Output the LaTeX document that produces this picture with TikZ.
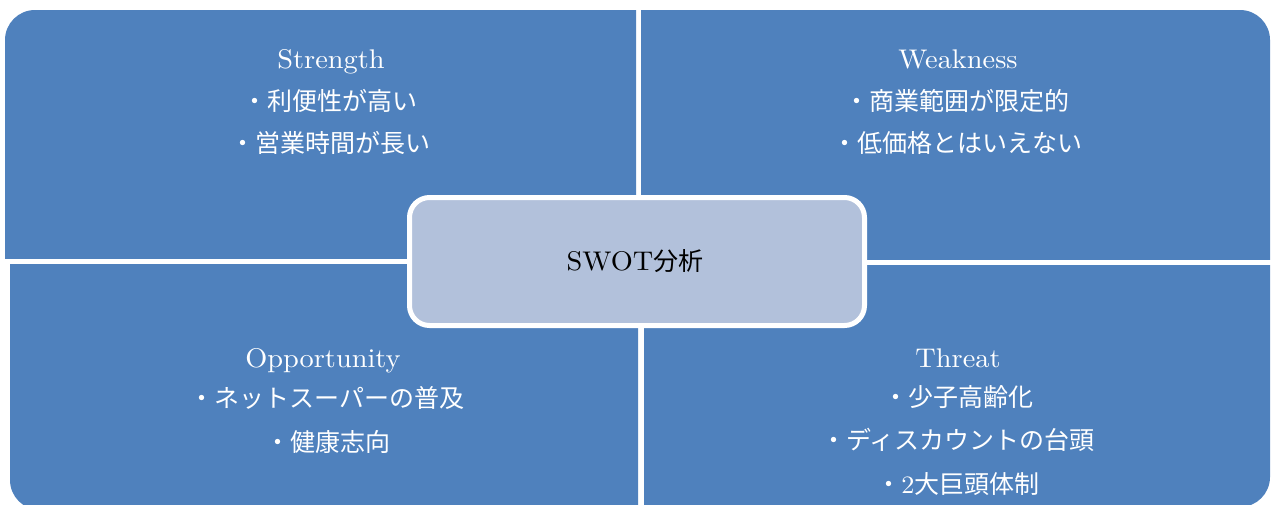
\documentclass[tikz,border=0pt]{standalone}
\usepackage{fontspec}
\newfontfamily\jp{Noto Sans CJK JP}
\newfontfamily\lat{lmroman10-regular.otf}[FakeStretch=1.05]
\definecolor{quadblue}{HTML}{4F81BD}
\definecolor{cboxfill}{HTML}{B2C1DB}
\begin{document}
\begin{tikzpicture}[x=1pt,y=-1pt,
  lat/.style={text=white,inner sep=0pt,anchor=base,font=\fontsize{27}{32}\selectfont\lat},
  jpt/.style={text=white,inner sep=0pt,anchor=base,font=\fontsize{25}{30}\selectfont\jp},
  quadfill/.style={fill=quadblue,rounded corners=30pt},
  centerbox/.style={fill=cboxfill,draw=white,line width=5pt,rounded corners=20pt,
    minimum width=455pt,minimum height=128pt,inner sep=0pt}]
\useasboundingbox (0,0) rectangle (1272,504);
\clip (0,0) rectangle (1272,504);
% quadrants
\begin{scope}
  \clip (5,10) rectangle (636,258);
  \fill[quadfill] (5,10) rectangle (720,330);
\end{scope}
\begin{scope}
  \clip (641,10) rectangle (1270,259);
  \fill[quadfill] (560,10) rectangle (1270,330);
\end{scope}
\begin{scope}
  \clip (10,264) rectangle (638,520);
  \fill[quadfill] (10,190) rectangle (720,510);
\end{scope}
\begin{scope}
  \clip (644,265) rectangle (1270,520);
  \fill[quadfill] (560,190) rectangle (1270,507);
\end{scope}
% center
\node[centerbox] (swot) at (637,261.5) {};
\node[inner sep=0pt,anchor=base,font=\fontsize{27}{32}\selectfont\lat] (swott) at (635,270) {SWOT{\fontsize{25}{30}\selectfont\jp 分析}};
% Strength
\node[lat] (s) at (331,68) {Strength};
\node[jpt] (s1) at (330,110.5) {・利便性が高い};
\node[jpt] (s2) at (330,152.5) {・営業時間が長い};
% Weakness
\node[lat] (w) at (958,68) {Weakness};
\node[jpt] (w1) at (957,110.5) {・商業範囲が限定的};
\node[jpt] (w2) at (957,152.5) {・低価格とはいえない};
% Opportunity
\node[lat] (o) at (323,367) {Opportunity};
\node[jpt] (o1) at (327,407.5) {・ネットスーパーの普及};
\node[jpt] (o2) at (328,451) {・健康志向};
% Threat
\node[lat] (t) at (958,367) {Threat};
\node[jpt] (t1) at (958,406.5) {・少子高齢化};
\node[jpt] (t2) at (958,449.5) {・ディスカウントの台頭};
\node[jpt] (t3) at (958,493.5) {・{\lat 2}大巨頭体制};
\end{tikzpicture}
\end{document}
